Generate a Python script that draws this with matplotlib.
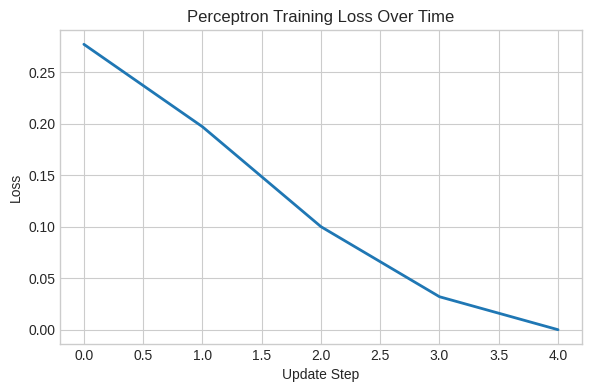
import matplotlib
matplotlib.use("Agg")
import matplotlib.pyplot as plt

steps = [0, 1, 2, 3, 4]
losses = [0.277, 0.197, 0.100, 0.032, 0.0]

plt.style.use('seaborn-v0_8-whitegrid')

fig = plt.figure(figsize=(5.9, 3.9), dpi=100)
plt.plot(steps, losses, color='#1f77b4', linewidth=2)
plt.xlabel('Update Step')
plt.ylabel('Loss')
plt.title('Perceptron Training Loss Over Time')

ax = plt.gca()
for spine in ax.spines.values():
    spine.set_visible(True)
    spine.set_color('#cccccc')

plt.subplots_adjust(left=0.102, right=0.986, top=0.923, bottom=0.118)
plt.savefig('out.png')
plt.close()
